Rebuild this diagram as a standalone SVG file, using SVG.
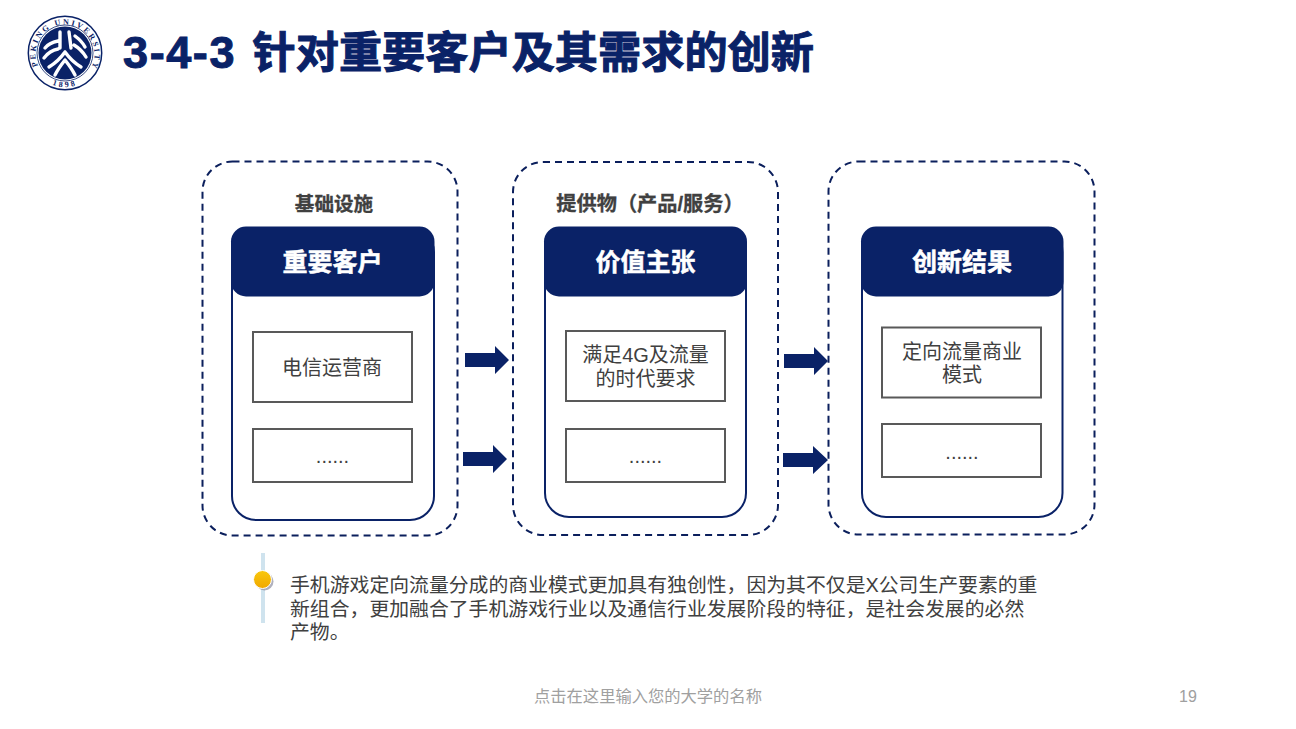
<svg xmlns="http://www.w3.org/2000/svg" width="1296" height="729" viewBox="0 0 1296 729">
<style>
text{font-family:"Liberation Sans","Noto Sans CJK SC",sans-serif}
.dash{fill:none;stroke:#0b1f5c;stroke-width:2;stroke-dasharray:7 5}
.card{fill:#fff;stroke:#0a2267;stroke-width:2}
.head{fill:#0a2267}
.box{fill:#fff;stroke:#595959;stroke-width:2}
.ht{fill:#fff;stroke:#fff;stroke-width:.5;font-size:25px;font-weight:bold;text-anchor:middle}
.sub{fill:#404040;stroke:#404040;stroke-width:.3;font-size:20.200px;font-weight:bold;text-anchor:middle}
.bt{fill:#404040;font-size:20px;text-anchor:middle}
.para{fill:#404040;font-size:19.850px}
.arr{fill:#0a2267}
.seal{fill:none;stroke:#0a2267}
.wing{fill:none;stroke:#fff;stroke-width:3.400;stroke-linecap:round;stroke-linejoin:round}
.sl{font-family:"Liberation Serif",serif;font-weight:bold;fill:#0a2267}
</style>
<defs>
<path id="ringText" d="M38 66A29.500 29.500 0 1 1 92 66"/>
<path id="ringYear" d="M47 82A34 34 0 0 0 83 82"/>
<linearGradient id="dot" x1="0" y1="0" x2="0" y2="1"><stop offset="0" stop-color="#f9c80e"/><stop offset="1" stop-color="#f0a800"/></linearGradient>
</defs>
<g id="logo">
<circle class="seal" cx="65" cy="53" r="36.700" stroke-width="1.500"/>
<circle class="seal" cx="65" cy="53" r="28" stroke-width="0.800"/>
<circle cx="65" cy="53" r="26.500" fill="#0a2267"/>
<text class="sl" font-size="8"><textPath href="#ringText" textLength="118" lengthAdjust="spacing">PEKING UNIVERSITY</textPath></text>
<text class="sl" font-size="8"><textPath href="#ringYear" startOffset="50%" text-anchor="middle" letter-spacing="2.500">1898</textPath></text>
<path class="wing" d="M60 32V48M69 32L71 48M58 41C53 42 48 44 45 48M58 49C52 50 47 54 44 58M75 36C79 39 83 43 85 47M74 45C79 48 83 52 86 57M65 52C60 59 54 64 49 67M65 52C70 59 76 64 81 67M65 60C61 65 57 71 55 75M65 60C69 65 73 71 75 75"/>
</g>
<text id="title" x="123" y="68" font-weight="bold" fill="#0a2267" stroke="#0a2267" stroke-width="1"><tspan font-size="45" letter-spacing="1.600">3-4-3</tspan><tspan x="252.500" font-size="43.200">针对重要客户及其需求的创新</tspan></text>
<g id="connectors">
<path class="arr" d="M465 353H495V346L509 360L495 374V367H465Z"/>
<path class="arr" d="M463 452H493V445L507 459L493 473V466H463Z"/>
<path class="arr" d="M784 354H814V347L828 361L814 375V368H784Z"/>
<path class="arr" d="M783 453H813V446L828 460L813 474V467H783Z"/>
</g>
<g id="column1">
<rect class="dash" x="202.500" y="161.500" width="255" height="374" rx="30"/>
<text class="sub" x="334" y="211" style="font-size:19.600px">基础设施</text>
<rect class="card" x="232" y="228" width="202" height="292" rx="24"/>
<rect class="head" x="231" y="226.500" width="203.500" height="70" rx="15"/>
<text class="ht" x="332.500" y="271">重要客户</text>
<rect class="box" x="253" y="332" width="159" height="70"/>
<text class="bt" x="332" y="375">电信运营商</text>
<rect class="box" x="253" y="429" width="159" height="53"/>
<text class="bt" x="332.500" y="463">......</text>
</g>
<g id="column2">
<rect class="dash" x="513" y="162" width="265" height="373" rx="30"/>
<text class="sub" x="650" y="211">提供物（产品/服务）</text>
<rect class="card" x="545" y="228" width="201" height="289" rx="24"/>
<rect class="head" x="544" y="226.500" width="203" height="70" rx="15"/>
<text class="ht" x="645.500" y="271">价值主张</text>
<rect class="box" x="566" y="331" width="159" height="70"/>
<text class="bt" x="645.500" y="362">满足4G及流量</text>
<text class="bt" x="645.500" y="386">的时代要求</text>
<rect class="box" x="566" y="429" width="159" height="53"/>
<text class="bt" x="645.500" y="463">......</text>
</g>
<g id="column3">
<rect class="dash" x="828.500" y="161.500" width="266" height="373" rx="30"/>
<rect class="card" x="862" y="228" width="200.500" height="289" rx="24"/>
<rect class="head" x="861" y="226.500" width="202.500" height="70" rx="15"/>
<text class="ht" x="962" y="271">创新结果</text>
<rect class="box" x="882" y="327.500" width="159" height="70"/>
<text class="bt" x="962" y="359">定向流量商业</text>
<text class="bt" x="962" y="382">模式</text>
<rect class="box" x="882" y="424" width="159" height="53"/>
<text class="bt" x="962" y="459">......</text>
</g>
<g id="note">
<rect x="261" y="553" width="4" height="70" fill="#cfe3ee"/>
<circle cx="264.500" cy="581.500" r="9" fill="#8d8fa3" opacity="0.700"/>
<circle cx="262.500" cy="579.500" r="9" fill="url(#dot)" stroke="#fff" stroke-width="1"/>
<text class="para" x="290" y="592">手机游戏定向流量分成的商业模式更加具有独创性，因为其不仅是X公司生产要素的重</text>
<text class="para" x="290" y="616">新组合，更加融合了手机游戏行业以及通信行业发展阶段的特征，是社会发展的必然</text>
<text class="para" x="290" y="639">产物。</text>
</g>
<g id="footer">
<text x="648" y="702" font-size="16.300" fill="#a0a0a0" text-anchor="middle">点击在这里输入您的大学的名称</text>
<text x="1188" y="702" font-size="16" fill="#a0a0a0" text-anchor="middle">19</text>
</g>
</svg>
